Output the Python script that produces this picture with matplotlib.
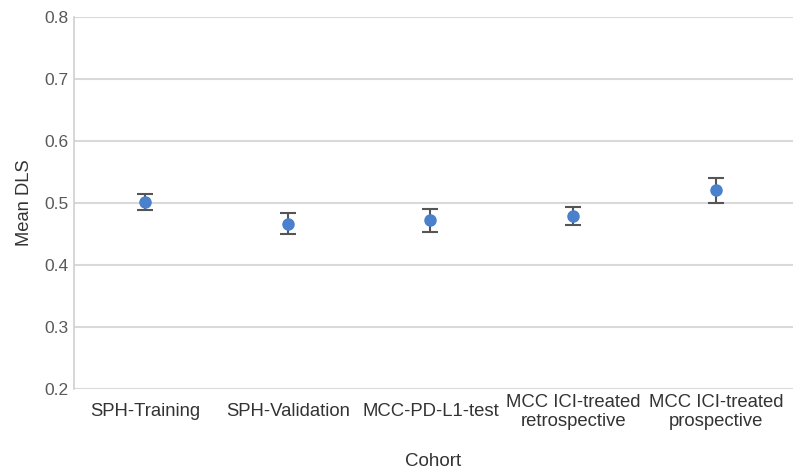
import matplotlib
matplotlib.use("Agg")
import matplotlib.pyplot as plt
import numpy as np

# data
cohorts = ["SPH-Training", "SPH-Validation", "MCC-PD-L1-test",
           "MCC ICI-treated\nretrospective", "MCC ICI-treated\nprospective"]
mean_dls = [0.502, 0.466, 0.472, 0.479, 0.521]
ci_low = [0.489, 0.450, 0.454, 0.465, 0.500]
ci_high = [0.515, 0.484, 0.491, 0.494, 0.541]

plt.rcParams["font.family"] = ["Liberation Sans", "DejaVu Sans"]

fig = plt.figure(figsize=(7.93, 4.74), dpi=100)
ax = fig.add_axes([0.0933, 0.1793, 0.9067, 0.7848])

x = np.arange(len(cohorts))
mean = np.array(mean_dls)
yerr = [mean - np.array(ci_low), np.array(ci_high) - mean]

ax.errorbar(x, mean, yerr=yerr, fmt="none", ecolor="#555555",
            elinewidth=1.5, capsize=6, capthick=1.5, zorder=3)
ax.plot(x, mean, "o", color="#4a80cc", markersize=8, zorder=4)

ax.set_ylim(0.2, 0.8)
ticks = np.arange(0.2, 0.81, 0.1)
ax.set_yticks(ticks)
ax.set_yticklabels([f"{v:.1f}" for v in ticks])
ax.set_xlim(-0.497, 4.54)
ax.set_xticks(x)
ax.set_xticklabels(cohorts, linespacing=1.15)

ax.grid(axis="y", color="#d9d9d9", linewidth=1.5)
ax.set_axisbelow(True)
for s in ["top", "right", "bottom"]:
    ax.spines[s].set_visible(False)
ax.spines["left"].set_color("#d0d0d0")
ax.spines["left"].set_linewidth(1.2)

ax.tick_params(axis="both", length=0)
ax.tick_params(axis="y", colors="#595959", labelsize=12.5, pad=4)
ax.tick_params(axis="x", colors="#333333", labelsize=13.3, pad=16.5)
for lbl in ax.get_xticklabels():
    lbl.set_verticalalignment("center")

ax.set_ylabel("Mean DLS", fontsize=13.2, color="#333333")
ax.yaxis.set_label_coords(-0.057, 0.5)
ax.set_xlabel("Cohort", fontsize=13.5, color="#333333", va="center")
ax.xaxis.set_label_coords(0.5, -0.196)

fig.savefig("out.png", dpi=100)
